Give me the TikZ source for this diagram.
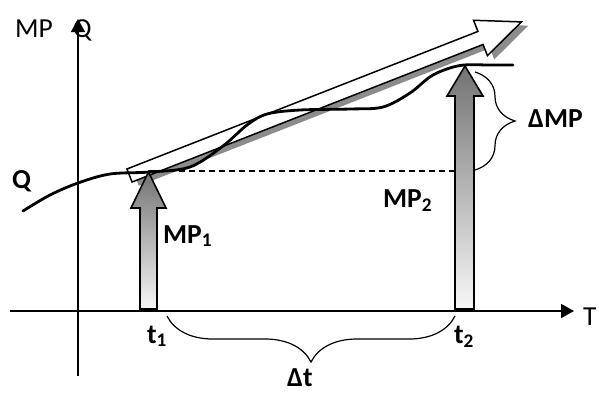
\documentclass[tikz,border=0pt]{standalone}
\usepackage{fontspec}
\setmainfont{Carlito}
\usetikzlibrary{decorations.pathreplacing,arrows.meta}
\begin{document}
\begin{tikzpicture}[x=1pt,y=-1pt,
  axis/.style={line width=1.6pt,-{Triangle[length=13pt,width=14pt]}},
  lbl/.style={inner sep=0pt,anchor=base west,font=\fontsize{27.5}{30}\selectfont},
  blbl/.style={lbl,font=\fontsize{27.5}{30}\selectfont\bfseries},
  growth/.style={draw=black,line width=1.6pt,line join=miter,
    top color=black!55,bottom color=white!97!black},
  bigarrow/.style={draw=black,line width=1.5pt,fill=white,line join=miter},
  bracestyle/.style={decorate,line width=1.2pt,decoration={brace,amplitude=#1}},
  curve/.style={line width=2.8pt,line cap=round}]
\useasboundingbox (0,0) rectangle (599,392);

% axis end points
\coordinate (xs) at (10,311);
\coordinate (xe) at (574,311);
\coordinate (ys) at (78,376);
\coordinate (ye) at (78,19);

% axis labels (drawn before the axes so the arrowhead sits over the Q)
\node[lbl] (mpax) at (15,37) {MP};
\node[lbl] (qax) at (73,37) {Q};
\node[lbl] (tax) at (583,325) {T};

\draw[axis] (xs) -- (xe);
\draw[axis] (ys) -- (ye);

% trend arrow with its shadow, in a frame along the trend direction
\begin{scope}[shift={(129.5,175.5)},rotate=21.4]
  \fill[black!45] (0,-7) ++(5,6) -- ++(377,0) -- ++(0,-12) -- ++(44,19)
     -- ++(-44,19) -- ++(0,-12) -- ++(-377,0) -- cycle;
  \path[bigarrow] (0,-7) -- (377,-7) -- (377,-19) -- (421,0) -- (377,19)
     -- (377,7) -- (0,7) -- cycle;
\end{scope}

% reference level at t1
\coordinate (p1) at (148.5,171);
\coordinate (p2) at (455,171);
\draw[line width=1.2pt,dash pattern=on 6pt off 4pt] (p1) -- (p2);

% quantity curve
\draw[curve] plot[smooth,tension=0.55] coordinates {
  (23,211) (50,195) (78,183) (110,174) (150,172) (190,167) (223,146)
  (247,125) (267,114) (300,110) (350,109) (383,107) (410,93) (433,75)
  (460,65.5) (490,65) (513,65)};

% MP arrows
\path[growth] (140,309) -- (140,208) -- (131,208) -- (148.5,172) -- (166,208)
   -- (157,208) -- (157,309) -- cycle;
\path[growth] (455,309) -- (455,96) -- (447,96) -- (465,66) -- (483,96)
   -- (474,96) -- (474,309) -- cycle;

% braces
\coordinate (b1) at (475,72);
\coordinate (b2) at (475,170);
\draw[bracestyle=40pt] (b1) -- (b2);
\coordinate (d1) at (455,316);
\coordinate (d2) at (167,316);
\draw[bracestyle=46pt] (d1) -- (d2);

% labels
\node[blbl] (ql) at (12,188) {Q};
\node[blbl] (mp1) at (163,243) {MP\textsubscript{1}};
\node[blbl] (mp2) at (383,207) {MP\textsubscript{2}};
\node[blbl] (dmp) at (528,127) {ΔMP};
\node[blbl] (t1) at (147,343) {t\textsubscript{1}};
\node[blbl] (t2) at (454,343) {t\textsubscript{2}};
\node[blbl] (dt) at (287,386) {Δt};
\end{tikzpicture}
\end{document}
